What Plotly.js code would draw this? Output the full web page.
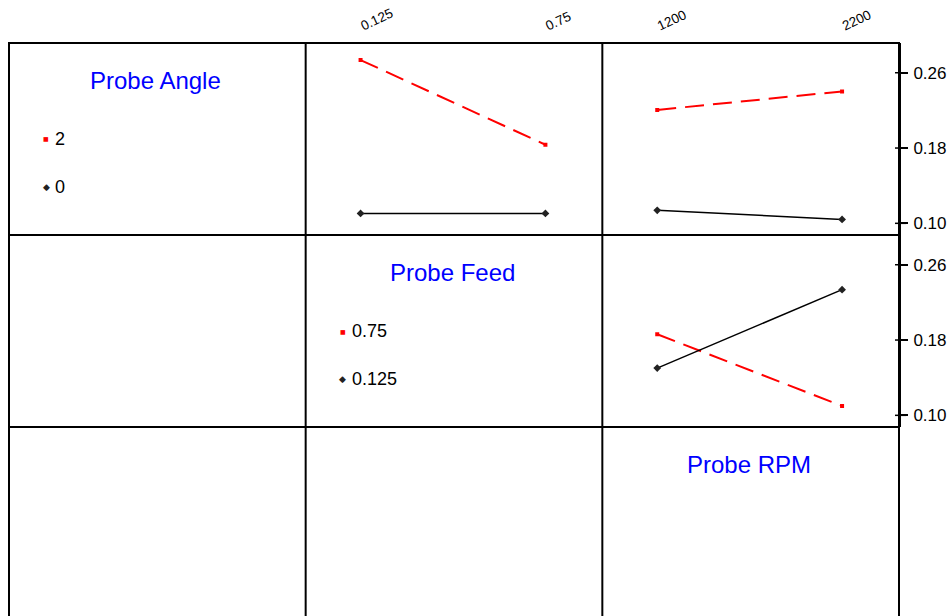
<!DOCTYPE html>
<html>
<head>
<meta charset="utf-8">
<script src="https://cdn.plot.ly/plotly-3.0.1.min.js"></script>
<style>html,body{margin:0;padding:0;background:#fff;}#chart{width:952px;height:616px;}</style>
</head>
<body>
<div id="chart"></div>
<script>
// ---- data ----
var feedLevels = ["0.125", "0.75"];
var rpmLevels = ["1200", "2200"];
var angleLevels = ["2", "0"];
var feedLegendLevels = ["0.75", "0.125"];

// Probe Angle interaction with Probe Feed
var angle2ByFeed = [0.2735, 0.1835];
var angle0ByFeed = [0.1105, 0.1105];
// Probe Angle interaction with Probe RPM
var angle2ByRpm = [0.2205, 0.2402];
var angle0ByRpm = [0.1138, 0.1042];
// Probe Feed interaction with Probe RPM
var feed075ByRpm = [0.1862, 0.1100];
var feed0125ByRpm = [0.1502, 0.2335];

var yTicks = [0.10, 0.18, 0.26];
var factorNames = ["Probe Angle", "Probe Feed", "Probe RPM"];

// ---- styling helpers ----
var W = 952, H = 616, ML = 9, MR = 53, MT = 43, MB = 0;
var plotH = H - MT - MB, plotW = W - ML - MR;
function py(y) { return (H - MB - y) / plotH; }     // pixel y -> paper y
function px(x) { return (x - ML) / plotW; }         // pixel x -> paper x
var rowTop = [43, 235, 427], rowBot = [235, 427, 619];
var FONT = "Liberation Sans, Arial, sans-serif";
var yRange = [0.0876, 0.2916];
var xRange = [-0.297, 1.308];

var redLine = {color: "#FF0000", width: 2, dash: "19px,9px"};
var blackLine = {color: "#000000", width: 1.5};
var redMarker = {symbol: "square", size: 4, color: "#FF0000"};
var blackMarker = {symbol: "diamond", size: 6, color: "#222222"};

function tr(x, y, xa, ya, line, marker, name) {
  return {x: x, y: y, xaxis: xa, yaxis: ya, type: "scatter", mode: "lines+markers",
          line: line, marker: marker, name: name, showlegend: false, hoverinfo: "skip"};
}

var data = [
  tr(feedLevels, angle2ByFeed, "x", "y", redLine, redMarker, "Angle 2"),
  tr(feedLevels, angle0ByFeed, "x", "y", blackLine, blackMarker, "Angle 0"),
  tr(rpmLevels, angle2ByRpm, "x2", "y2", redLine, redMarker, "Angle 2"),
  tr(rpmLevels, angle0ByRpm, "x2", "y2", blackLine, blackMarker, "Angle 0"),
  tr(rpmLevels, feed075ByRpm, "x3", "y3", redLine, redMarker, "Feed 0.75"),
  tr(rpmLevels, feed0125ByRpm, "x3", "y3", blackLine, blackMarker, "Feed 0.125")
];

function rowDomain(r) { return [Math.max(0, py(rowBot[r])), Math.min(1, py(rowTop[r]))]; }

var topX = {type: "category", range: xRange, side: "top", showline: false, showgrid: false,
  zeroline: false, ticks: "", tickangle: -25, ticklabelstandoff: 8,
  tickfont: {family: FONT, size: 13.5, color: "#000"}, fixedrange: true};
var hidY = {range: yRange, showline: false, showgrid: false, zeroline: false, showticklabels: false, ticks: "", fixedrange: true};
var rightY = {range: yRange, side: "right", showline: true, linecolor: "#000", linewidth: 2,
  showgrid: false, zeroline: false,
  tickvals: yTicks, tickformat: ".2f", ticks: "outside", ticklen: 7, tickwidth: 2, tickcolor: "#000",
  ticklabelstandoff: 2,
  tickfont: {family: FONT, size: 17, color: "#000"}, fixedrange: true};

var layout = {
  width: W, height: H,
  margin: {l: ML, r: MR, t: MT, b: MB},
  paper_bgcolor: "#fff", plot_bgcolor: "rgba(0,0,0,0)",
  showlegend: false,
  xaxis: Object.assign({}, topX, {domain: [1/3, 2/3], anchor: "y"}),
  yaxis: Object.assign({}, hidY, {domain: rowDomain(0), anchor: "x"}),
  xaxis2: Object.assign({}, topX, {domain: [2/3, 1], anchor: "y2"}),
  yaxis2: Object.assign({}, rightY, {domain: rowDomain(0), anchor: "x2"}),
  xaxis3: Object.assign({}, topX, {domain: [2/3, 1], anchor: "y3", side: "bottom", showticklabels: false}),
  yaxis3: Object.assign({}, rightY, {domain: rowDomain(1), anchor: "x3"}),
  shapes: [],
  annotations: []
};

// grid frame
var lineStyle = {color: "#000", width: 2};
layout.shapes.push({type: "rect", xref: "paper", yref: "paper", x0: 0, x1: 1, y0: py(619), y1: 1, line: lineStyle, layer: "above"});
[1/3, 2/3].forEach(function (v) {
  layout.shapes.push({type: "line", xref: "paper", yref: "paper", x0: v, x1: v, y0: py(619), y1: 1, line: lineStyle, layer: "above"});
});
[rowBot[0], rowBot[1]].forEach(function (v) {
  layout.shapes.push({type: "line", xref: "paper", yref: "paper", x0: 0, x1: 1, y0: py(v), y1: py(v), line: lineStyle, layer: "above"});
});
// tick marks crossing the right axis line, placed on the axis scale
["y2", "y3"].forEach(function (ax) {
  yTicks.forEach(function (t) {
    layout.shapes.push({type: "line", xref: "paper", yref: ax, x0: px(895), x1: px(906), y0: t, y1: t,
      line: {color: "#000", width: 1.5}, layer: "above"});
  });
});

// diagonal titles and legends
var legendSets = [angleLevels, feedLegendLevels, []];
for (var i = 0; i < 3; i++) {
  var cx = px(9 + 296.7 * (i + 0.5) - 2);
  layout.annotations.push({xref: "paper", yref: "paper", x: cx, y: py(rowTop[i] + 37), text: factorNames[i],
    showarrow: false, xanchor: "center", yanchor: "middle", font: {family: FONT, size: 24, color: "#0000FF"}});
  var items = legendSets[i];
  for (var k = 0; k < items.length; k++) {
    var yy = py(rowTop[i] + 96 + 48 * k);
    var mx = px(9 + 296.7 * i + 37);
    layout.annotations.push({xref: "paper", yref: "paper", x: mx, y: yy,
      text: k === 0 ? "■" : "◆", showarrow: false, xanchor: "center", yanchor: "middle",
      font: {family: "DejaVu Sans", size: k === 0 ? 6 : 9, color: k === 0 ? "#FF0000" : "#222"}});
    layout.annotations.push({xref: "paper", yref: "paper", x: px(9 + 296.7 * i + 44), y: yy,
      text: items[k], showarrow: false, xanchor: "left", yanchor: "middle",
      font: {family: FONT, size: 18, color: "#000"}});
  }
}

Plotly.newPlot("chart", data, layout, {displayModeBar: false, staticPlot: true});
</script>
</body>
</html>
